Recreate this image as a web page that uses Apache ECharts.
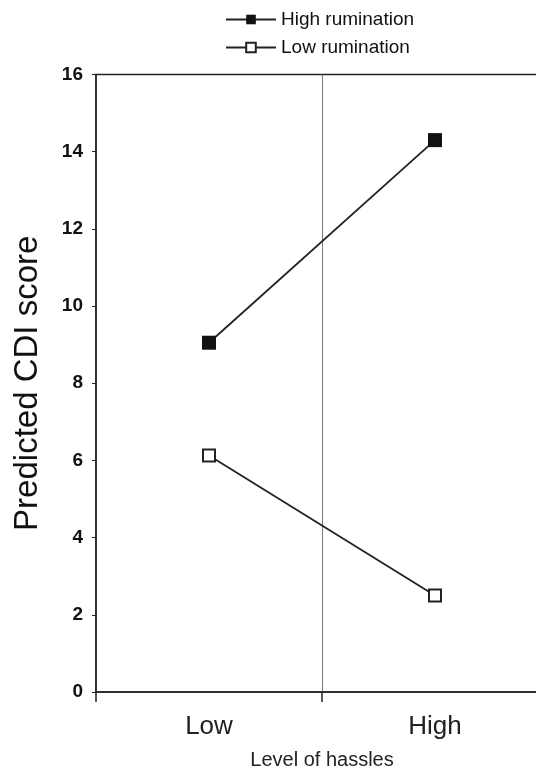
<!DOCTYPE html>
<html>
<head>
<meta charset="utf-8">
<style>html,body{margin:0;padding:0;background:#fff;}#c{width:536px;height:775px;}</style>
<script src="https://cdn.jsdelivr.net/npm/echarts@6/dist/echarts.min.js"></script>
</head>
<body>
<div id="c"></div>
<script>
const categories = ['Low', 'High'];
const highRumination = [9.05, 14.3];
const lowRumination = [6.13, 2.5];
const yTicks = [0, 2, 4, 6, 8, 10, 12, 14, 16];

const chart = echarts.init(document.getElementById('c'));
const font = '"Liberation Sans", Arial, sans-serif';
chart.setOption({
  animation: false,
  backgroundColor: '#fff',
  textStyle: { fontFamily: font },
  legend: {
    orient: 'vertical',
    left: 225,
    top: 10,
    padding: 0,
    itemWidth: 50,
    itemHeight: 12,
    itemGap: 9,
    textStyle: { fontSize: 19, color: '#111', fontFamily: font },
    data: ['High rumination', 'Low rumination']
  },
  grid: {
    left: 96, top: 74.5, width: 452, height: 617.5,
    outerBoundsMode: 'none',
    containLabel: false,
    show: true, borderColor: '#222', borderWidth: 1.5, backgroundColor: 'transparent'
  },
  xAxis: {
    type: 'category',
    data: categories,
    boundaryGap: true,
    axisLine: { lineStyle: { color: '#222', width: 1.5 } },
    axisTick: { show: true, length: 10, lineStyle: { color: '#222', width: 1.5 } },
    axisLabel: { fontSize: 26, color: '#222', margin: 22, fontFamily: font },
    splitLine: { show: true, lineStyle: { color: '#777', width: 1 } },
    name: 'Level of hassles',
    nameLocation: 'middle',
    nameGap: 58,
    nameTextStyle: { fontSize: 20, color: '#222', fontFamily: font }
  },
  yAxis: {
    type: 'value',
    min: yTicks[0], max: yTicks[yTicks.length - 1], interval: 2,
    axisLine: { show: true, lineStyle: { color: '#222', width: 1.5 } },
    axisTick: { show: true, length: 4, lineStyle: { color: '#222', width: 1 } },
    axisLabel: { fontSize: 19, fontWeight: 'bold', color: '#111', margin: 13, fontFamily: font },
    splitLine: { show: false },
    name: 'Predicted CDI score',
    nameLocation: 'middle',
    nameGap: 52,
    nameTextStyle: { fontSize: 33, color: '#111', fontFamily: font }
  },
  series: [
    {
      name: 'High rumination', type: 'line', data: highRumination,
      symbol: 'rect', symbolSize: 14,
      lineStyle: { color: '#222', width: 1.8 },
      itemStyle: { color: '#111', borderColor: '#111', borderWidth: 0 }
    },
    {
      name: 'Low rumination', type: 'line', data: lowRumination,
      symbol: 'rect', symbolSize: 12,
      lineStyle: { color: '#222', width: 1.8 },
      itemStyle: { color: '#fff', borderColor: '#222', borderWidth: 2 }
    }
  ]
});
</script>
</body>
</html>
